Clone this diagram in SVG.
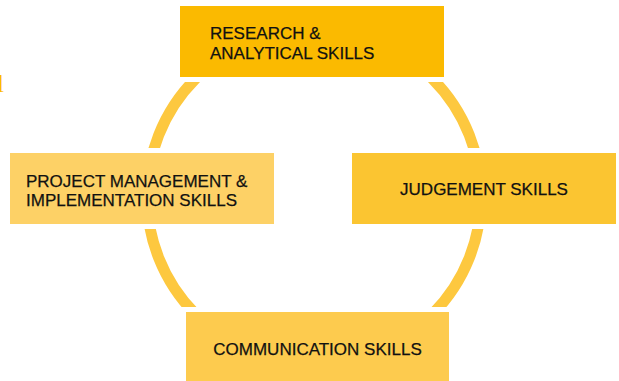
<svg xmlns="http://www.w3.org/2000/svg" width="619" height="381" viewBox="0 0 619 381">
<style>
.box{stroke:#ffffff;stroke-width:10;paint-order:stroke}
.lbl{font-family:"Liberation Sans",Arial,sans-serif;font-size:17px;fill:#111111;stroke:#111111;stroke-width:0.25}
.mid{text-anchor:middle}
</style>
<rect width="619" height="381" fill="#ffffff"/>
<text x="-3" y="92" font-family="Liberation Serif,serif" font-size="25" fill="#FBBA00">l</text>
<g id="connectors">
<circle cx="314" cy="196.5" r="167" fill="none" stroke="#FDC83F" stroke-width="11"/>
</g>
<g id="research">
<rect class="box" x="180" y="6" width="264" height="71" fill="#FBBA00"/>
<text class="lbl" x="210" y="39">RESEARCH &amp;</text>
<text class="lbl" x="210" y="59">ANALYTICAL SKILLS</text>
</g>
<g id="project">
<rect class="box" x="10" y="153" width="264" height="71" fill="#FDD166"/>
<text class="lbl" x="26" y="186.5">PROJECT MANAGEMENT &amp;</text>
<text class="lbl" x="26" y="205.5">IMPLEMENTATION SKILLS</text>
</g>
<g id="judgement">
<rect class="box" x="352" y="153" width="264" height="71" fill="#FBC531"/>
<text class="lbl mid" x="484" y="195">JUDGEMENT SKILLS</text>
</g>
<g id="communication">
<rect class="box" x="186" y="312" width="263" height="75" fill="#FDCB4E"/>
<text class="lbl mid" x="317.5" y="355">COMMUNICATION SKILLS</text>
</g>
</svg>
